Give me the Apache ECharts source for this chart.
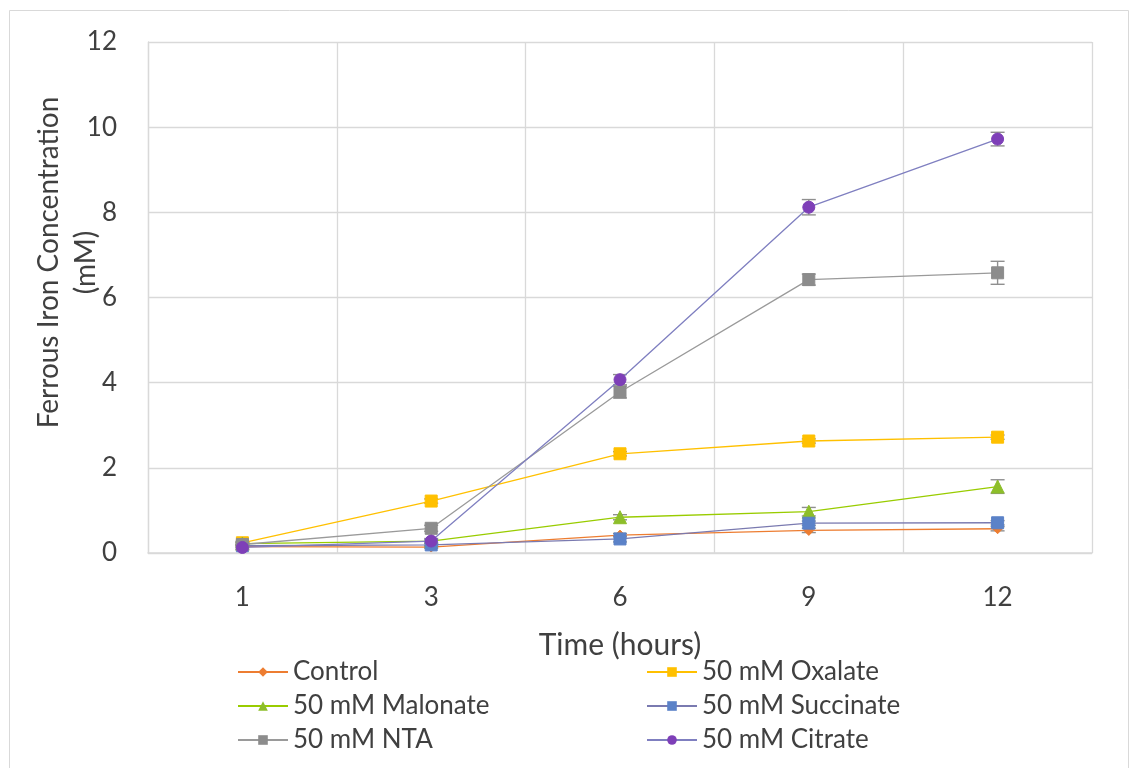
<!DOCTYPE html>
<html>
<head>
<meta charset="utf-8">
<script src="https://cdn.jsdelivr.net/npm/echarts@6/dist/echarts.min.js"></script>
<style>
  html, body { margin: 0; padding: 0; background: #fff; }
  #chart { width: 1131px; height: 768px; }
</style>
</head>
<body>
<div id="chart"></div>
<script>
// Sampling times (hours)
const hours = ['1', '3', '6', '9', '12'];

// Mean ferrous iron concentration (mM) per treatment
const control   = [0.15, 0.14, 0.42, 0.53, 0.57];
const oxalate   = [0.24, 1.22, 2.33, 2.63, 2.72];
const malonate  = [0.22, 0.28, 0.84, 0.97, 1.56];
const succinate = [0.17, 0.19, 0.33, 0.70, 0.71];
const nta       = [0.20, 0.58, 3.78, 6.42, 6.58];
const citrate   = [0.13, 0.28, 4.07, 8.12, 9.72];

// Standard deviations (mM)
const controlErr   = [0.03, 0.03, 0.04, 0.05, 0.05];
const oxalateErr   = [0.03, 0.05, 0.05, 0.05, 0.05];
const malonateErr  = [0.03, 0.03, 0.06, 0.10, 0.16];
const succinateErr = [0.03, 0.03, 0.07, 0.05, 0.05];
const ntaErr       = [0.04, 0.07, 0.14, 0.13, 0.27];
const citrateErr   = [0.05, 0.06, 0.12, 0.18, 0.16];

const yTicks = [0, 2, 4, 6, 8, 10, 12];

const FONT = 'Lato';

const treatments = [
  { name: 'Control',           data: control,   err: controlErr,   line: '#ED7D31', mark: '#ED7D31', symbol: 'diamond',  size: 10 },
  { name: '50 mM Oxalate',     data: oxalate,   err: oxalateErr,   line: '#FFC000', mark: '#FFC000', symbol: 'rect',     size: 12 },
  { name: '50 mM Malonate',    data: malonate,  err: malonateErr,  line: '#99CC00', mark: '#8DBE2A', symbol: 'triangle', size: 13 },
  { name: '50 mM Succinate',   data: succinate, err: succinateErr, line: '#7A7AB0', mark: '#5B82C8', symbol: 'rect',     size: 12 },
  { name: '50 mM NTA',         data: nta,       err: ntaErr,       line: '#9A9A9A', mark: '#8C8C8C', symbol: 'rect',     size: 12 },
  { name: '50 mM Citrate',     data: citrate,   err: citrateErr,   line: '#7F7FC0', mark: '#7E3FB8', symbol: 'circle',   size: 12 }
];

const lineSeries = treatments.map(t => ({
  name: t.name,
  type: 'line',
  data: t.data,
  symbol: t.symbol,
  symbolSize: t.size,
  lineStyle: { color: t.line, width: 1.3 },
  itemStyle: { color: t.mark, borderColor: t.mark },
  z: 3
}));

// Error bars with caps, drawn through the axis scales
const errorSeries = treatments.map(t => ({
  name: t.name + ' error',
  type: 'custom',
  data: t.data.map((v, i) => [i, v - t.err[i], v + t.err[i]]),
  renderItem: function (params, api) {
    const lo = api.coord([api.value(0), api.value(1)]);
    const hi = api.coord([api.value(0), api.value(2)]);
    const half = 7;
    const style = { stroke: '#8F8F8F', lineWidth: 1.4 };
    return {
      type: 'group',
      children: [
        { type: 'line', shape: { x1: hi[0], y1: hi[1], x2: lo[0], y2: lo[1] }, style: style },
        { type: 'line', shape: { x1: hi[0] - half, y1: hi[1], x2: hi[0] + half, y2: hi[1] }, style: style },
        { type: 'line', shape: { x1: lo[0] - half, y1: lo[1], x2: lo[0] + half, y2: lo[1] }, style: style }
      ]
    };
  },
  z: 2,
  silent: true
}));

const legendText = { fontFamily: FONT, fontSize: 26, color: '#404040' };

const chart = echarts.init(document.getElementById('chart'), null, { renderer: 'canvas' });
chart.setOption({
  animation: false,
  backgroundColor: '#ffffff',
  graphic: [{
    type: 'rect',
    shape: { x: 9.5, y: 10.5, width: 1119, height: 770 },
    style: { fill: 'none', stroke: '#D9D9D9', lineWidth: 1 },
    silent: true
  }],
  grid: { left: 148, right: 39, top: 42, bottom: 215, outerBoundsMode: 'none', containLabel: false },
  xAxis: {
    type: 'category',
    data: hours,
    boundaryGap: true,
    name: 'Time (hours)',
    nameLocation: 'middle',
    nameGap: 77,
    nameTextStyle: { fontFamily: FONT, fontSize: 30, color: '#404040' },
    axisLine: { lineStyle: { color: '#D9D9D9', width: 1.5 } },
    axisTick: { show: false },
    axisLabel: { fontFamily: FONT, fontSize: 26, color: '#404040', margin: 32 },
    splitLine: { show: true, lineStyle: { color: '#D9D9D9', width: 1.3 } }
  },
  yAxis: {
    type: 'value',
    min: yTicks[0],
    max: yTicks[yTicks.length - 1],
    interval: 2,
    name: 'Ferrous Iron Concentration\n(mM)',
    nameLocation: 'middle',
    nameRotate: 90,
    nameGap: 44,
    nameMoveOverlap: false,
    nameTextStyle: { fontFamily: FONT, fontSize: 28, color: '#404040', lineHeight: 37, padding: [0, 0, 0, 70] },
    axisLine: { show: true, lineStyle: { color: '#D9D9D9', width: 1.3 } },
    axisTick: { show: false },
    axisLabel: { fontFamily: FONT, fontSize: 26, color: '#404040', margin: 31 },
    splitLine: { lineStyle: { color: '#D9D9D9', width: 1.3 } }
  },
  legend: [
    {
      data: ['Control', '50 mM Malonate', '50 mM NTA'],
      orient: 'vertical',
      left: 232,
      top: 654,
      itemWidth: 50,
      itemHeight: 12,
      itemGap: 8,
      textStyle: legendText
    },
    {
      data: ['50 mM Oxalate', '50 mM Succinate', '50 mM Citrate'],
      orient: 'vertical',
      left: 641,
      top: 654,
      itemWidth: 50,
      itemHeight: 12,
      itemGap: 8,
      textStyle: legendText
    }
  ],
  series: lineSeries.concat(errorSeries)
});
</script>
</body>
</html>
